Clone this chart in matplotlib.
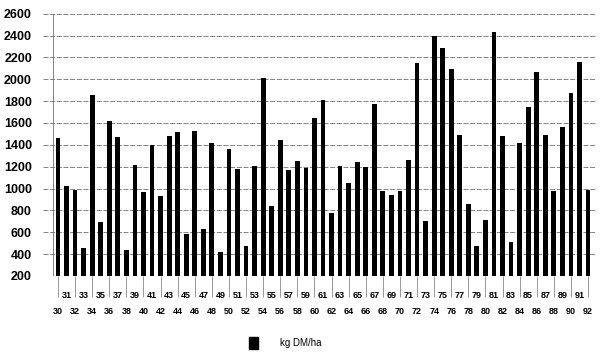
import matplotlib
matplotlib.use("Agg")
import matplotlib.pyplot as plt
from matplotlib.patches import Patch

years = list(range(30, 93))
values = [1460, 1020, 990, 460, 1860, 690, 1620, 1470, 440, 1220,
          970, 1400, 930, 1480, 1520, 580, 1530, 630, 1420, 420,
          1360, 1180, 470, 1210, 2010, 840, 1440, 1170, 1250, 1190,
          1650, 1810, 780, 1210, 1050, 1240, 1200, 1770, 980, 940,
          980, 1260, 2150, 700, 2400, 2290, 2090, 1490, 860, 470,
          710, 2430, 1480, 510, 1420, 1750, 2070, 1490, 975, 1560,
          1870, 2160, 990]
y_ticks = list(range(200, 2601, 200))
series_name = "kg DM/ha"

plt.rcParams['font.family'] = ['Liberation Sans', 'DejaVu Sans']

fig = plt.figure(figsize=(6, 3.6), dpi=100)
ax = fig.add_axes([43/600, (360-276)/360, (596-43)/600, (276-13.7)/360])

ax.bar(years, [v - 200 for v in values], bottom=200, width=0.56, color='black', zorder=3)

ax.set_xlim(30 - 15/8.55, 92 + 8/8.55)
ax.set_ylim(200, 2600)
ax.set_yticks(y_ticks)
ax.set_yticklabels([str(t) for t in y_ticks], fontsize=9, fontweight='bold')
ax.tick_params(axis='y', length=0, pad=8)

for y in y_ticks:
    ax.axhline(y, color='#707070', lw=0.6, ls=(0, (6, 2)), zorder=1)

# vertical axis line
ax.axvline(30 - 5/8.55, color='#707070', lw=0.6, zorder=1)

odd = [y for y in years if y % 2 == 1]
even = [y for y in years if y % 2 == 0]
ax.set_xticks(odd)
ax.set_xticklabels([str(y) for y in odd], fontsize=6.5, fontweight='bold')
ax.set_xticks(even, minor=True)
ax.set_xticklabels([str(y) for y in even], minor=True, fontsize=6.5, fontweight='bold')
ax.tick_params(axis='x', which='major', length=0, pad=10.5)
ax.tick_params(axis='x', which='minor', length=15, width=0.5, color='#707070', pad=7.5)

for s in ax.spines.values():
    s.set_visible(False)

fig.legend(handles=[Patch(facecolor='black', edgecolor='black')], labels=[series_name],
           loc='center', bbox_to_anchor=(285/600, (360-343)/360), frameon=False,
           fontsize=7, handlelength=1.0, handleheight=1.5, handletextpad=2.2)

fig.savefig("out.png", dpi=100, facecolor='white')
